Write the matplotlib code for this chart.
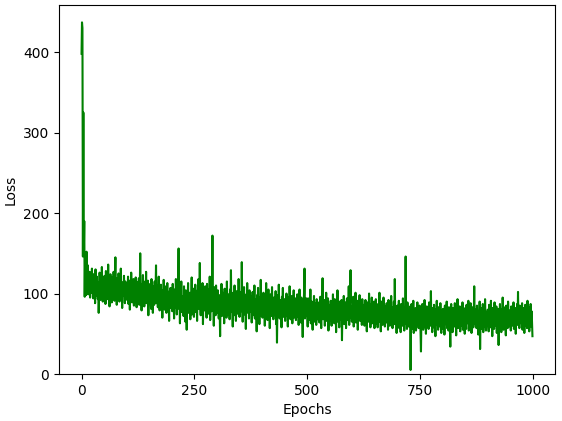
import matplotlib
matplotlib.use('Agg')
import matplotlib.pyplot as plt
from matplotlib.ticker import MultipleLocator
import numpy as np

# loss per epoch (25 epochs per row)
loss = [
    398, 437, 430, 146, 325, 150, 190, 96, 145, 112, 98, 152, 120, 104, 135, 99, 118, 108, 127, 95, 113, 122, 101, 131, 106,
    117, 94, 124, 103, 112, 88, 130, 109, 97, 121, 105, 93, 114, 76, 101, 126, 110, 92, 119, 98, 133, 104, 90, 116, 107,
    96, 122, 111, 87, 128, 100, 115, 93, 107, 136, 99, 118, 84, 110, 124, 97, 105, 89, 120, 113, 94, 127, 102, 91, 116,
    145, 98, 112, 86, 119, 104, 95, 125, 108, 90, 117, 101, 131, 93, 110, 82, 114, 106, 97, 122, 100, 88, 115, 109, 94,
    111, 92, 104, 121, 87, 99, 116, 80, 107, 95, 126, 101, 89, 112, 97, 118, 85, 103, 109, 91, 120, 96, 83, 114, 100,
    93, 108, 119, 86, 102, 150, 95, 111, 79, 105, 98, 123, 90, 115, 84, 100, 110, 94, 127, 88, 104, 97, 116, 73, 99,
    107, 89, 112, 95, 81, 118, 92, 101, 76, 109, 97, 86, 115, 94, 103, 135, 88, 99, 110, 83, 96, 121, 90, 79, 105,
    92, 111, 84, 98, 70, 104, 89, 117, 94, 80, 101, 87, 109, 76, 96, 113, 85, 99, 91, 66, 103, 88, 107, 82, 95,
    100, 78, 112, 86, 94, 69, 105, 90, 83, 118, 92, 74, 99, 87, 108, 156, 81, 96, 63, 102, 89, 115, 77, 93, 85,
    97, 72, 109, 84, 91, 65, 104, 79, 55, 96, 88, 113, 76, 93, 82, 101, 68, 98, 86, 120, 74, 90, 80, 106, 71,
    94, 83, 111, 77, 99, 89, 66, 104, 92, 118, 81, 96, 138, 86, 73, 107, 91, 84, 113, 62, 100, 87, 95, 79, 109,
    82, 97, 70, 112, 88, 93, 75, 105, 84, 121, 67, 99, 90, 78, 103, 172, 85, 94, 60, 108, 81, 96, 73, 110, 87,
    91, 76, 104, 85, 69, 98, 80, 47, 95, 87, 112, 72, 89, 101, 78, 93, 63, 106, 84, 79, 97, 70, 115, 86, 74,
    99, 81, 92, 68, 105, 88, 129, 77, 94, 84, 59, 101, 90, 73, 110, 82, 96, 66, 87, 103, 75, 93, 80, 118, 85,
    71, 97, 86, 102, 78, 139, 89, 65, 95, 82, 108, 74, 91, 84, 56, 99, 80, 113, 87, 76, 94, 69, 104, 83, 90,
    77, 96, 64, 88, 102, 73, 91, 84, 110, 69, 93, 79, 86, 53, 98, 81, 107, 75, 90, 62, 95, 83, 117, 72, 87,
    94, 70, 85, 101, 76, 89, 60, 97, 82, 113, 74, 91, 67, 86, 105, 79, 93, 57, 88, 99, 72, 84, 108, 78, 90,
    68, 95, 81, 87, 73, 103, 62, 90, 39, 84, 98, 75, 111, 80, 69, 92, 77, 86, 58, 96, 82, 107, 71, 89, 76,
    93, 66, 85, 79, 100, 72, 88, 59, 95, 81, 74, 109, 83, 68, 91, 77, 97, 63, 86, 80, 104, 70, 89, 75, 94,
    67, 86, 78, 99, 71, 92, 61, 84, 105, 76, 88, 64, 95, 80, 73, 46, 90, 83, 101, 131, 69, 87, 77, 94, 72,
    82, 59, 94, 76, 67, 86, 73, 105, 63, 80, 90, 70, 55, 84, 77, 97, 65, 88, 74, 81, 61, 93, 78, 68, 85,
    71, 89, 64, 82, 96, 75, 57, 87, 79, 119, 68, 83, 74, 92, 60, 85, 77, 101, 66, 80, 70, 94, 54, 86, 76,
    83, 67, 91, 74, 60, 88, 78, 99, 69, 84, 63, 93, 76, 81, 52, 87, 72, 104, 65, 79, 85, 58, 90, 73, 82,
    68, 92, 42, 80, 86, 71, 97, 62, 83, 75, 89, 57, 78, 94, 67, 85, 73, 109, 61, 81, 90, 129, 70, 77, 65,
    84, 72, 96, 59, 79, 87, 68, 101, 64, 82, 76, 91, 55, 85, 73, 80, 98, 66, 88, 70, 83, 61, 93, 75, 78,
    67, 86, 60, 81, 92, 71, 77, 53, 89, 74, 83, 65, 100, 69, 78, 58, 87, 72, 95, 63, 82, 76, 68, 90, 57,
    79, 70, 93, 63, 84, 74, 58, 87, 69, 80, 101, 65, 76, 53, 90, 72, 83, 61, 78, 95, 67, 85, 59, 73, 82,
    64, 88, 71, 77, 55, 92, 69, 81, 60, 86, 74, 97, 66, 83, 57, 79, 72, 90, 62, 118, 68, 84, 75, 51, 80,
    85, 63, 74, 91, 57, 80, 68, 52, 87, 71, 78, 60, 94, 66, 83, 54, 75, 69, 146, 62, 81, 56, 89, 67, 73,
    59, 78, 65, 84, 5, 70, 87, 56, 75, 63, 91, 51, 80, 68, 60, 82, 54, 62, 73, 89, 64, 77, 57, 71, 85,
    66, 53, 28, 74, 61, 87, 68, 55, 80, 64, 92, 58, 76, 50, 71, 84, 62, 78, 67, 56, 89, 65, 73, 60, 103,
    63, 77, 52, 82, 69, 58, 86, 65, 74, 47, 80, 67, 91, 61, 72, 55, 83, 68, 76, 59, 88, 64, 51, 79, 70,
    56, 81, 66, 73, 49, 85, 62, 77, 68, 90, 57, 72, 79, 54, 83, 65, 60, 34, 75, 87, 63, 70, 52, 82, 67,
    74, 59, 88, 64, 71, 48, 80, 66, 93, 57, 76, 69, 62, 84, 53, 73, 81, 60, 67, 89, 55, 78, 65, 72, 50,
    82, 68, 56, 86, 63, 75, 70, 91, 54, 79, 66, 60, 88, 73, 51, 77, 64, 83, 58, 71, 109, 62, 80, 67, 74,
    57, 85, 65, 72, 49, 78, 61, 90, 31, 69, 82, 56, 74, 63, 87, 52, 68, 79, 59, 93, 66, 54, 77, 71, 62,
    80, 64, 53, 86, 69, 75, 58, 91, 62, 73, 47, 82, 67, 78, 56, 89, 65, 71, 60, 84, 51, 76, 68, 81, 36,
    72, 58, 87, 66, 74, 52, 80, 63, 95, 69, 55, 83, 61, 77, 68, 48, 85, 64, 73, 57, 90, 70, 59, 79, 65,
    76, 54, 84, 67, 60, 81, 71, 89, 56, 75, 64, 82, 50, 78, 68, 87, 61, 102, 65, 73, 57, 85, 70, 80, 63,
    69, 88, 55, 77, 64, 82, 51, 73, 86, 60, 79, 66, 57, 91, 68, 62, 83, 53, 75, 70, 87, 59, 78, 65, 47,
]
epochs = np.arange(len(loss))

fig, ax = plt.subplots(figsize=(5.62, 4.21), dpi=100)
fig.subplots_adjust(left=59 / 562, right=555 / 562, bottom=47 / 421, top=416 / 421)

ax.plot(epochs, loss, color='green')
ax.set_ylim(bottom=0)
ax.xaxis.set_major_locator(MultipleLocator(250))
ax.set_xlabel('Epochs')
ax.set_ylabel('Loss')

fig.savefig('out.png', dpi=100)
